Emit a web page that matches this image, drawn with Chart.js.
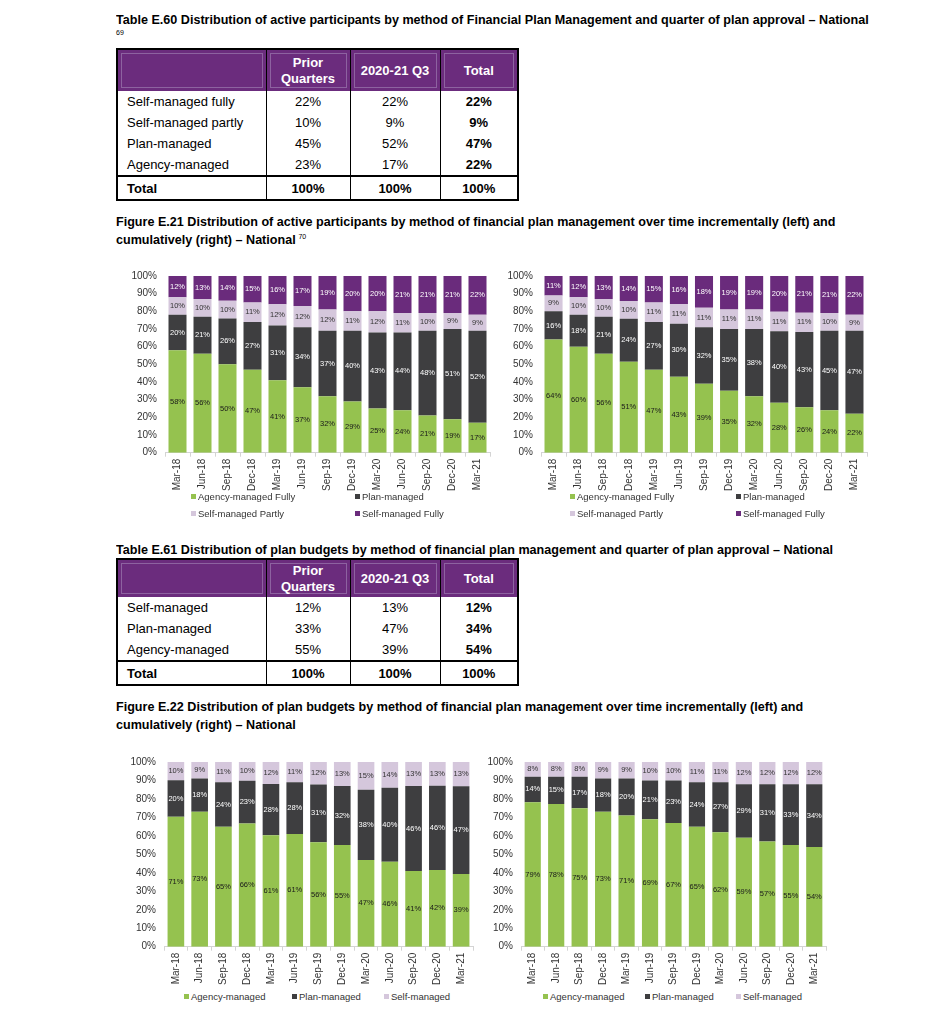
<!DOCTYPE html>
<html><head><meta charset="utf-8">
<script src="https://cdn.jsdelivr.net/npm/chart.js@4.4.1/dist/chart.umd.min.js"></script>
<style>
body{margin:0;background:#fff;font-family:"Liberation Sans",Arial,sans-serif;color:#000;}
#page{position:relative;width:932px;height:1024px;overflow:hidden;background:#fff;}
.title{position:absolute;left:116px;font-weight:bold;font-size:13.5px;line-height:18px;white-space:nowrap;transform:scaleX(0.932);transform-origin:0 0;}
.title sup{font-size:7.5px;font-weight:normal;vertical-align:top;position:relative;top:-3px;margin-left:3px;}
.fn{position:absolute;left:116px;font-size:7px;color:#000;}
table.t{position:absolute;left:116px;border-collapse:collapse;border:2px solid #000;font-size:13px;table-layout:fixed;}
table.t th{background:#6B2C7D;color:#fff;font-weight:bold;text-align:center;border-left:1.5px solid #000;padding:0;line-height:16px;box-shadow:inset 0 0 0 3px #6B2C7D, inset 0 0 0 4px #8d62a0;}
table.t td{padding:0;text-align:center;border-left:1.5px solid #000;height:21px;}
table.t td.l{text-align:left;padding-left:9px;}
table.t tr.tot td{border-top:2px solid #000;font-weight:bold;height:22px;}
table.t td.b{font-weight:bold;}
.cbox{position:absolute;}
.leg{position:absolute;font-size:9.5px;color:#333;white-space:nowrap;line-height:10px;}
.leg i{display:inline-block;width:5px;height:5px;margin-right:2px;vertical-align:1px;}
</style></head>
<body><div id="page">

<div class="title" style="top:11px">Table E.60 Distribution of active participants by method of Financial Plan Management and quarter of plan approval – National</div>
<div class="fn" style="top:29px">69</div>

<table class="t" style="top:48px">
<colgroup><col style="width:149px"><col style="width:84px"><col style="width:90px"><col style="width:78px"></colgroup>
<tr style="height:42px"><th></th><th>Prior<br>Quarters</th><th>2020-21 Q3</th><th>Total</th></tr>
<tbody id="t1body"></tbody>
</table>

<div class="title" style="top:213px">Figure E.21 Distribution of active participants by method of financial plan management over time incrementally (left) and<br>cumulatively (right) – National<sup>70</sup></div>

<div class="cbox" style="left:120px;top:262px;width:375px;height:232px"><canvas id="c1"></canvas></div>
<div class="cbox" style="left:497px;top:262px;width:375px;height:232px"><canvas id="c2"></canvas></div>
<div id="leg1"></div><div id="leg2"></div>

<div class="title" style="top:541px">Table E.61 Distribution of plan budgets by method of financial plan management and quarter of plan approval – National</div>

<table class="t" style="top:558px">
<colgroup><col style="width:149px"><col style="width:84px"><col style="width:90px"><col style="width:78px"></colgroup>
<tr style="height:38px"><th></th><th>Prior<br>Quarters</th><th>2020-21 Q3</th><th>Total</th></tr>
<tbody id="t2body"></tbody>
</table>

<div class="title" style="top:698px">Figure E.22 Distribution of plan budgets by method of financial plan management over time incrementally (left) and<br>cumulatively (right) – National</div>

<div class="cbox" style="left:120px;top:748px;width:358px;height:240px"><canvas id="c3"></canvas></div>
<div class="cbox" style="left:478px;top:748px;width:353px;height:240px"><canvas id="c4"></canvas></div>
<div id="leg3"></div><div id="leg4"></div>

</div>
<script>
// ---------- DATA ----------
const quarters = ['Mar-18','Jun-18','Sep-18','Dec-18','Mar-19','Jun-19','Sep-19','Dec-19','Mar-20','Jun-20','Sep-20','Dec-20','Mar-21'];
const yTicks = [0,10,20,30,40,50,60,70,80,90,100];

// Table E.60
const t1Rows = ['Self-managed fully','Self-managed partly','Plan-managed','Agency-managed'];
const t1Prior = ['22%','10%','45%','23%'];
const t1Q3 = ['22%','9%','52%','17%'];
const t1Total = ['22%','9%','47%','22%'];

// Table E.61
const t2Rows = ['Self-managed','Plan-managed','Agency-managed'];
const t2Prior = ['12%','33%','55%'];
const t2Q3 = ['13%','47%','39%'];
const t2Total = ['12%','34%','54%'];

// Figure E.21 series names
const e21Series = ['Agency-managed Fully','Plan-managed','Self-managed Partly','Self-managed Fully'];
// incremental (left)
const incAgency = [58,56,50,47,41,37,32,29,25,24,21,19,17];
const incPlan   = [20,21,26,27,31,34,37,40,43,44,48,51,52];
const incPartly = [10,10,10,11,12,12,12,11,12,11,10,9,9];
const incFully  = [12,13,14,15,16,17,19,20,20,21,21,21,22];
// cumulative (right)
const cumAgency = [64,60,56,51,47,43,39,35,32,28,26,24,22];
const cumPlan   = [16,18,21,24,27,30,32,35,38,40,43,45,47];
const cumPartly = [9,10,10,10,11,11,11,11,11,11,11,10,9];
const cumFully  = [11,12,13,14,15,16,18,19,19,20,21,21,22];

// Figure E.22 series names
const e22Series = ['Agency-managed','Plan-managed','Self-managed'];
const budIncAgency = [71,73,65,66,61,61,56,55,47,46,41,42,39];
const budIncPlan   = [20,18,24,23,28,28,31,32,38,40,46,46,47];
const budIncSelf   = [10,9,11,10,12,11,12,13,15,14,13,13,13];
const budCumAgency = [79,78,75,73,71,69,67,65,62,59,57,55,54];
const budCumPlan   = [14,15,17,18,20,21,23,24,27,29,31,33,34];
const budCumSelf   = [8,8,8,9,9,10,10,11,11,12,12,12,12];

// ---------- STYLE ----------
const GREEN='#95C24F', DARK='#3E3E40', LAV='#D5C7DC', PURPLE='#6A2B7C';
const colors4=[GREEN,DARK,LAV,PURPLE];
const labelColors4=['#1a1a1a','#ffffff','#333333','#ffffff'];
const colors3=[GREEN,DARK,LAV];
const labelColors3=['#1a1a1a','#ffffff','#333333'];
const FONT='"Liberation Sans", Arial, sans-serif';

// ---------- TABLES ----------
function fillTable(id, rows, a, b, c){
  const tb=document.getElementById(id);
  let h='';
  rows.forEach((r,i)=>{h+=`<tr><td class="l">${r}</td><td>${a[i]}</td><td>${b[i]}</td><td class="b">${c[i]}</td></tr>`;});
  h+=`<tr class="tot"><td class="l">Total</td><td>100%</td><td>100%</td><td>100%</td></tr>`;
  tb.innerHTML=h;
}
fillTable('t1body',t1Rows,t1Prior,t1Q3,t1Total);
fillTable('t2body',t2Rows,t2Prior,t2Q3,t2Total);

// ---------- CHARTS ----------
const valueLabels={
  id:'valueLabels',
  afterDatasetsDraw(chart){
    const ctx=chart.ctx;
    ctx.save();
    ctx.font='7.5px '+FONT;
    ctx.textAlign='center';ctx.textBaseline='middle';
    chart.data.datasets.forEach((ds,i)=>{
      const meta=chart.getDatasetMeta(i);
      ctx.fillStyle=ds.labelColor;
      meta.data.forEach((bar,j)=>{
        const p=bar.getProps(['x','y','base'],true);
        ctx.fillText(ds.raw[j]+'%',p.x,(p.y+p.base)/2);
      });
    });
    ctx.restore();
  }
};

function makeChart(id, names, series, cols, lcols, cfg){
  // 100% stacked: each column is shown as share of its own total
  const totals=quarters.map((_,j)=>series.reduce((s,d)=>s+d[j],0));
  const datasets=series.map((d,i)=>({label:names[i],data:d.map((v,j)=>v*100/totals[j]),raw:d,
    backgroundColor:cols[i],labelColor:lcols[i],barPercentage:cfg.bar,categoryPercentage:1,borderWidth:0}));
  return new Chart(document.getElementById(id),{
    type:'bar',
    data:{labels:quarters,datasets},
    options:{
      responsive:true,maintainAspectRatio:false,animation:false,
      layout:{padding:{top:cfg.top,right:5,left:0,bottom:0}},
      plugins:{legend:{display:false},tooltip:{enabled:false}},
      scales:{
        x:{stacked:true,
          grid:{display:true,drawOnChartArea:false,drawTicks:true,tickLength:4,color:'#d4d4d4',offset:true},
          border:{display:true,color:'#d4d4d4'},
          ticks:{autoSkip:false,minRotation:90,maxRotation:90,padding:2,color:'#333',font:{family:FONT,size:10}},
          afterFit(s){s.height=cfg.xh;}
        },
        y:{stacked:true,min:0,max:100,
          grid:{display:false,drawTicks:false},border:{display:false},
          afterBuildTicks(s){s.ticks=yTicks.map(v=>({value:v}));},
          ticks:{padding:8,color:'#333',font:{family:FONT,size:10},callback:v=>v+'%'},
          afterFit(s){s.width=cfg.yw;}
        }
      }
    },
    plugins:[valueLabels]
  });
}

makeChart('c1',e21Series,[incAgency,incPlan,incPartly,incFully],colors4,labelColors4,{bar:0.72,top:8.7,xh:41.3,yw:45});
makeChart('c2',e21Series,[cumAgency,cumPlan,cumPartly,cumFully],colors4,labelColors4,{bar:0.72,top:8.7,xh:41.3,yw:44});
makeChart('c3',e22Series,[budIncAgency,budIncPlan,budIncSelf],colors3,labelColors3,{bar:0.70,top:7.7,xh:41.3,yw:44});
makeChart('c4',e22Series,[budCumAgency,budCumPlan,budCumSelf],colors3,labelColors3,{bar:0.69,top:7.7,xh:41.3,yw:43});

// ---------- LEGENDS ----------
function legend(id, names, cols, pos){
  const el=document.getElementById(id);
  el.innerHTML=names.map((n,i)=>`<div class="leg" style="left:${pos[i][0]}px;top:${pos[i][1]-5}px"><i style="background:${cols[i]}"></i>${n}</div>`).join('');
}
legend('leg1',e21Series,colors4,[[191,497],[355,497],[191,514],[355,514]]);
legend('leg2',e21Series,colors4,[[570,497],[736,497],[570,514],[736,514]]);
legend('leg3',e22Series,colors3,[[184,997],[292,997],[384,997]]);
legend('leg4',e22Series,colors3,[[543,997],[645,997],[736,997]]);
</script>
</body></html>
